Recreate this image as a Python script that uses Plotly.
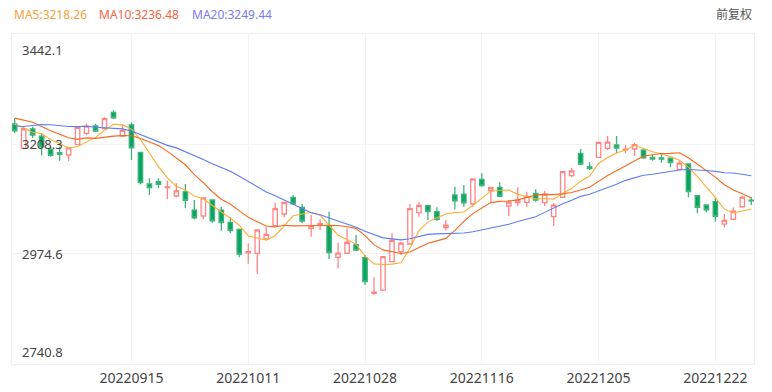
import plotly.graph_objects as go
import pandas as pd

dates = ["20220826", "20220829", "20220830", "20220831", "20220901", "20220902", "20220905",
         "20220906", "20220907", "20220908", "20220909", "20220913", "20220914", "20220915",
         "20220916", "20220919", "20220920", "20220921", "20220922", "20220923", "20220926",
         "20220927", "20220928", "20220929", "20220930", "20221010", "20221011", "20221012",
         "20221013", "20221014", "20221017", "20221018", "20221019", "20221020", "20221021",
         "20221024", "20221025", "20221026", "20221027", "20221028", "20221031", "20221101",
         "20221102", "20221103", "20221104", "20221107", "20221108", "20221109", "20221110",
         "20221111", "20221114", "20221115", "20221116", "20221117", "20221118", "20221121",
         "20221122", "20221123", "20221124", "20221125", "20221128", "20221129", "20221130",
         "20221201", "20221202", "20221205", "20221206", "20221207", "20221208", "20221209",
         "20221212", "20221213", "20221214", "20221215", "20221216", "20221219", "20221220",
         "20221221", "20221222", "20221223", "20221226", "20221227", "20221228"]

open_ = [3250.8, 3199.2, 3240.2, 3225.0, 3197.1, 3190.0, 3185.0, 3207.7, 3231.0, 3246.6,
         3241.0, 3275.7, 3225.3, 3249.0, 3190.7, 3123.3, 3128.2, 3115.5, 3097.8, 3107.0,
         3068.0, 3055.3, 3089.3, 3068.0, 3041.9, 3027.0, 2977.0, 2976.0, 3006.4, 3034.7,
         3059.6, 3095.0, 3073.8, 3029.0, 3037.0, 3034.7, 2967.6, 2976.0, 2994.3, 2966.7,
         2891.0, 2898.0, 2958.2, 2979.5, 2995.8, 3062.3, 3077.2, 3064.5, 3030.5, 3099.9,
         3102.0, 3080.8, 3133.3, 3109.1, 3116.3, 3076.6, 3083.6, 3084.4, 3103.5, 3083.6,
         3053.8, 3095.0, 3141.0, 3188.6, 3160.1, 3180.0, 3199.2, 3206.2, 3196.0, 3197.7,
         3195.6, 3180.0, 3179.0, 3178.0, 3154.6, 3165.8, 3098.4, 3078.7, 3085.7, 3038.0,
         3048.3, 3075.0, 3089.0]
high = [3262.9, 3242.0, 3245.0, 3231.0, 3202.6, 3202.6, 3201.0, 3245.0, 3251.0, 3251.0,
        3265.0, 3280.0, 3250.2, 3254.0, 3192.0, 3135.4, 3135.4, 3130.4, 3124.8, 3123.3,
        3089.3, 3095.0, 3090.8, 3075.0, 3052.5, 3029.0, 2997.0, 3026.5, 3032.6, 3083.6,
        3085.8, 3099.9, 3080.8, 3057.4, 3048.3, 3064.5, 2998.6, 3029.0, 3015.0, 2972.4,
        2925.0, 2970.0, 3018.5, 3000.7, 3080.8, 3085.8, 3078.0, 3073.8, 3046.8, 3117.6,
        3121.2, 3134.5, 3146.0, 3117.6, 3126.9, 3089.3, 3116.3, 3107.0, 3112.1, 3109.1,
        3082.3, 3150.0, 3158.0, 3197.7, 3169.4, 3212.5, 3225.3, 3225.3, 3206.2, 3211.0,
        3196.5, 3185.0, 3188.6, 3178.5, 3172.8, 3167.3, 3098.8, 3080.0, 3095.0, 3059.6,
        3073.8, 3097.8, 3095.0]
low = [3231.7, 3197.0, 3221.0, 3184.0, 3181.4, 3172.8, 3172.0, 3206.0, 3227.5, 3234.0,
       3239.6, 3261.5, 3223.9, 3174.3, 3122.0, 3099.9, 3114.2, 3090.8, 3095.0, 3071.7,
       3048.3, 3048.3, 3041.0, 3024.0, 3019.0, 2967.5, 2954.0, 2932.0, 3004.3, 3033.4,
       3052.5, 3078.7, 3039.8, 3011.3, 3025.6, 2963.9, 2944.1, 2975.0, 2980.9, 2908.7,
       2887.4, 2895.9, 2958.0, 2972.4, 2995.0, 3053.8, 3046.8, 3044.7, 3024.0, 3069.5,
       3075.0, 3075.0, 3117.6, 3085.7, 3095.0, 3055.3, 3076.6, 3075.0, 3085.7, 3076.6,
       3034.1, 3094.0, 3137.6, 3163.7, 3153.1, 3179.0, 3195.6, 3188.6, 3188.6, 3182.8,
       3177.0, 3172.8, 3168.7, 3159.0, 3153.1, 3095.0, 3061.0, 3063.0, 3043.2, 3031.3,
       3046.8, 3073.8, 3078.7]
close = [3236.2, 3240.7, 3227.2, 3202.1, 3184.0, 3186.5, 3199.9, 3243.5, 3246.3, 3235.6,
         3262.1, 3263.8, 3237.5, 3199.9, 3126.4, 3115.6, 3122.4, 3117.2, 3108.9, 3088.4,
         3051.2, 3093.9, 3045.1, 3041.2, 3024.4, 2974.2, 2979.8, 3025.9, 3016.3, 3071.1,
         3084.4, 3080.9, 3044.4, 3035.0, 3038.9, 2977.6, 2976.3, 2999.5, 2982.9, 2915.9,
         2893.5, 2969.2, 3003.4, 2997.8, 3070.8, 3077.8, 3064.5, 3048.2, 3036.1, 3087.3,
         3083.4, 3134.1, 3120.0, 3115.4, 3097.2, 3085.0, 3088.9, 3096.9, 3089.3, 3101.7,
         3078.6, 3149.7, 3151.3, 3165.5, 3156.1, 3211.8, 3212.5, 3199.6, 3197.4, 3206.9,
         3179.0, 3176.3, 3176.5, 3168.7, 3167.9, 3107.1, 3073.8, 3068.4, 3054.4, 3045.9,
         3065.6, 3095.6, 3087.4]

# closes of the 19 sessions before the first visible candle (needed for the moving averages)
prior_close = [3259.96, 3186.27, 3163.67, 3189.04, 3227.03, 3236.93, 3247.43, 3230.02, 3281.67,
               3276.89, 3276.09, 3277.88, 3292.53, 3277.54, 3258.08, 3277.79, 3276.22, 3215.20,
               3246.25]

y_ticks = [2740.8, 2974.6, 3208.3, 3442.1]
x_ticks = ["20220915", "20221011", "20221028", "20221116", "20221205", "20221222"]
header = ["MA5:3218.26", "MA10:3236.48", "MA20:3249.44"]
ma_windows = [5, 10, 20]

all_close = pd.Series(prior_close + close)
n0 = len(prior_close)
ma = {w: all_close.rolling(w).mean().iloc[n0:].tolist() for w in ma_windows}

FONT = "Noto Sans, Noto Sans CJK SC, sans-serif"
ma_line_colors = {5: "#ffad33", 10: "#f7691e", 20: "#5b7ef6"}
ma_text_colors = ["#f7a23a", "#f2673e", "#7a7cf2"]

fig = go.Figure()
fig.add_trace(go.Candlestick(
    x=dates, open=open_, high=high, low=low, close=close,
    increasing=dict(line=dict(color="#ff8585", width=1.3), fillcolor="#ffffff"),
    decreasing=dict(line=dict(color="#3cb47c", width=1.3), fillcolor="#0aa45e"),
    whiskerwidth=0, showlegend=False, hoverinfo="skip",
))
for w in ma_windows:
    fig.add_trace(go.Scatter(x=dates, y=ma[w], mode="lines",
                             line=dict(color=ma_line_colors[w], width=1.1),
                             showlegend=False, hoverinfo="skip"))

annotations = []
xs = [12, 97, 190]
for t, xp, col in zip(header, xs, ma_text_colors):
    annotations.append(dict(text=t, xref="paper", yref="paper", x=(xp - 12) / 742, y=1,
                            xanchor="left", yanchor="middle", yshift=20, showarrow=False,
                            font=dict(size=12, color=col, family=FONT)))
annotations.append(dict(text="前复权", xref="paper", yref="paper", x=1, y=1, xanchor="right",
                        yanchor="middle", yshift=20, showarrow=False,
                        font=dict(size=12, color="#555555", family=FONT)))
for i, v in enumerate(y_ticks):
    if i == 0:
        ya, ys = "bottom", 1
    elif i == len(y_ticks) - 1:
        ya, ys = "top", -5
    else:
        ya, ys = "middle", 0
    annotations.append(dict(text=f"{v:.1f}", xref="paper", yref="y", x=0, y=v,
                            xanchor="left", yanchor=ya, xshift=8, yshift=ys, showarrow=False,
                            font=dict(size=13, color="#444444", family=FONT)))

fig.update_layout(
    width=772, height=392,
    margin=dict(l=12, r=18, t=34, b=28, autoexpand=False),
    paper_bgcolor="white", plot_bgcolor="white",
    font=dict(family=FONT),
    annotations=annotations,
    xaxis=dict(type="category", range=[-0.3, 82.3], rangeslider=dict(visible=False),
               tickmode="array", tickvals=x_ticks, ticktext=x_ticks, automargin=False,
               showgrid=True, gridcolor="#f3f3f3", gridwidth=1,
               showline=True, linecolor="#efefef", mirror=True, ticks="",
               ticklabelstandoff=1,
               tickfont=dict(size=14, color="#444444", family=FONT), fixedrange=True),
    yaxis=dict(range=[y_ticks[0], y_ticks[-1]], tickmode="array", tickvals=y_ticks,
               automargin=False,
               showticklabels=False, showgrid=True, gridcolor="#f3f3f3", gridwidth=1,
               showline=True, linecolor="#efefef", mirror=True, zeroline=False, ticks="",
               fixedrange=True),
)

# remove the browser's default 8px body margin so the figure sits at the page origin
fig.write_html("out.html", config={"displayModeBar": False},
               post_script="document.body.style.margin='0';")
